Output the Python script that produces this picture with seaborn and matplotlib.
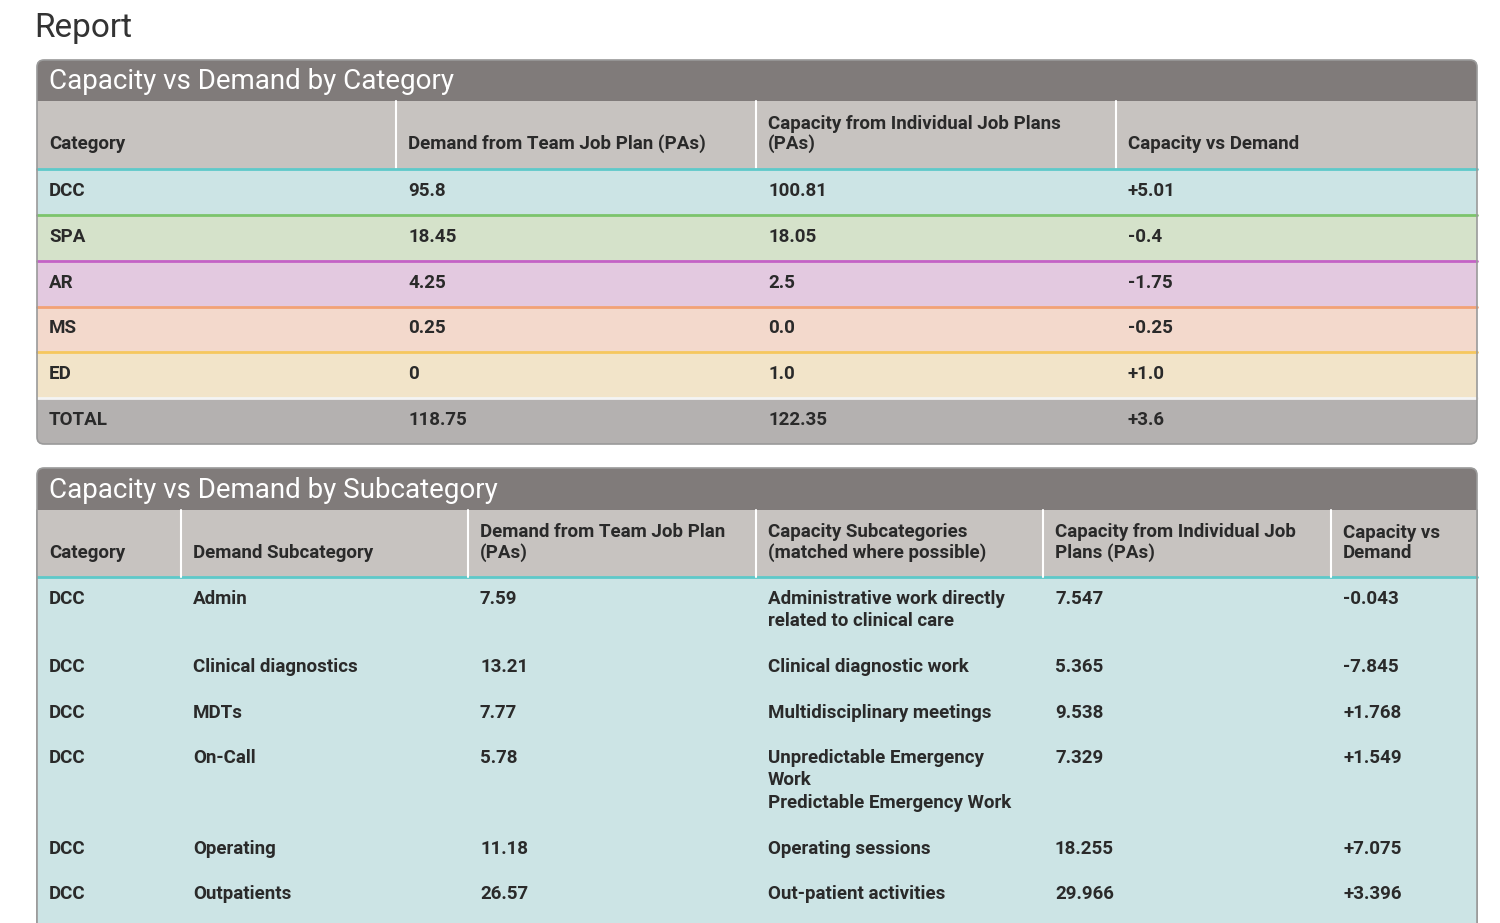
import matplotlib
matplotlib.use('Agg')
import matplotlib.pyplot as plt
from matplotlib.patches import Rectangle, FancyBboxPatch
import seaborn as sns

sns.set_theme(style='white')
plt.rcParams['font.family'] = ['Roboto', 'DejaVu Sans']

# ---- data: table 1 (by category) ----
cat_headers = ['Category', 'Demand from Team Job Plan (PAs)',
               'Capacity from Individual Job Plans\n(PAs)', 'Capacity vs Demand']
categories = ['DCC', 'SPA', 'AR', 'MS', 'ED', 'TOTAL']
demand = ['95.8', '18.45', '4.25', '0.25', '0', '118.75']
capacity = ['100.81', '18.05', '2.5', '0.0', '1.0', '122.35']
diff = ['+5.01', '-0.4', '-1.75', '-0.25', '+1.0', '+3.6']
row_fill = ['#cce4e5', '#d5e2ca', '#e3c9e0', '#f3d9cc', '#f2e4c9', '#b4b1b0']
row_line = ['#5ec9c9', '#7cc46c', '#c462c6', '#f2a276', '#f6c75e', '#f4f4f4']

# ---- data: table 2 (by subcategory) ----
sub_headers = ['Category', 'Demand Subcategory', 'Demand from Team Job Plan\n(PAs)',
               'Capacity Subcategories\n(matched where possible)',
               'Capacity from Individual Job\nPlans (PAs)', 'Capacity vs\nDemand']
sub_cat = ['DCC', 'DCC', 'DCC', 'DCC', 'DCC', 'DCC']
sub_demand_name = ['Admin', 'Clinical diagnostics', 'MDTs', 'On-Call', 'Operating', 'Outpatients']
sub_demand = ['7.59', '13.21', '7.77', '5.78', '11.18', '26.57']
sub_capacity_name = ['Administrative work directly\nrelated to clinical care',
                     'Clinical diagnostic work', 'Multidisciplinary meetings',
                     'Unpredictable Emergency\nWork\nPredictable Emergency Work',
                     'Operating sessions', 'Out-patient activities']
sub_capacity = ['7.547', '5.365', '9.538', '7.329', '18.255', '29.966']
sub_diff = ['-0.043', '-7.845', '+1.768', '+1.549', '+7.075', '+3.396']

TITLE_BG = '#807b7a'
HEAD_BG = '#c7c3c0'
TEXT = '#2a2a2a'
EDGE = '#9a9a9a'

fig = plt.figure(figsize=(15, 9.23), dpi=100)
ax = fig.add_axes([0, 0, 1, 1])
ax.set_xlim(0, 1500)
ax.set_ylim(923, 0)
ax.axis('off')

ax.text(34, 28, 'Report', fontsize=24, color='#333333', va='center', ha='left',
        fontweight='normal')

L, R = 37, 1477

# ================= table 1 =================
t1_top, t1_head, t1_body, t1_bot = 60, 101, 169, 444
row_h = (t1_bot - t1_body) / len(categories)
ax.add_patch(FancyBboxPatch((L, t1_top), R - L, t1_bot - t1_top,
                            boxstyle='round,pad=0,rounding_size=7',
                            fc=TITLE_BG, ec='none', zorder=1))
ax.add_patch(FancyBboxPatch((L, t1_head), R - L, t1_bot - t1_head,
                            boxstyle='round,pad=0,rounding_size=7',
                            fc=row_fill[-1], ec='none', zorder=1))
ax.add_patch(Rectangle((L, t1_head), R - L, t1_body - t1_head, fc=HEAD_BG, ec='none', zorder=2))
ax.text(L + 12, (t1_top + t1_head) / 2 + 1, 'Capacity vs Demand by Category',
        fontsize=20, color='white', va='center', ha='left', zorder=5)

col_x1 = [L, 396, 756, 1116]
for i, h in enumerate(cat_headers):
    ax.text(col_x1[i] + 12, t1_body - 20, h, fontsize=13.5, fontweight='bold',
            color=TEXT, va='baseline', ha='left', linespacing=1.12, zorder=5)
    if i > 0:
        ax.plot([col_x1[i], col_x1[i]], [t1_head, t1_body], color='white', lw=1.5, zorder=3)

for r, name in enumerate(categories):
    y0 = t1_body + r * row_h
    if r < len(categories) - 1:
        ax.add_patch(Rectangle((L, y0), R - L, row_h, fc=row_fill[r], ec='none', zorder=2))
    ax.plot([L, R], [y0, y0], color=row_line[r], lw=2, zorder=3)
    vals = [name, demand[r], capacity[r], diff[r]]
    for i, v in enumerate(vals):
        ax.text(col_x1[i] + 12, y0 + row_h / 2 - 1, v, fontsize=13.5, fontweight='bold',
                color=TEXT, va='center', ha='left', zorder=5)

ax.add_patch(FancyBboxPatch((L, t1_top), R - L, t1_bot - t1_top,
                            boxstyle='round,pad=0,rounding_size=7',
                            fc='none', ec=EDGE, lw=1.2, zorder=6))

# ================= table 2 =================
t2_top, t2_head, t2_body, t2_bot = 468, 510, 577, 960
ax.add_patch(FancyBboxPatch((L, t2_top), R - L, t2_bot - t2_top,
                            boxstyle='round,pad=0,rounding_size=7',
                            fc=TITLE_BG, ec=EDGE, lw=1.2, zorder=1))
ax.add_patch(Rectangle((L, t2_head), R - L, t2_body - t2_head, fc=HEAD_BG, ec='none', zorder=2))
ax.add_patch(Rectangle((L, t2_body), R - L, t2_bot - t2_body, fc=row_fill[0], ec='none', zorder=2))
ax.plot([L, L], [t2_head, 923], color=EDGE, lw=1.2, zorder=6)
ax.plot([R, R], [t2_head, 923], color=EDGE, lw=1.2, zorder=6)
ax.plot([L, R], [t2_body, t2_body], color=row_line[0], lw=2, zorder=3)
ax.text(L + 12, (t2_top + t2_head) / 2 + 1, 'Capacity vs Demand by Subcategory',
        fontsize=20, color='white', va='center', ha='left', zorder=5)

col_x2 = [L, 181, 468, 756, 1043, 1331]
for i, h in enumerate(sub_headers):
    ax.text(col_x2[i] + 12, t2_body - 19, h, fontsize=13.5, fontweight='bold',
            color=TEXT, va='baseline', ha='left', linespacing=1.15, zorder=5)
    if i > 0:
        ax.plot([col_x2[i], col_x2[i]], [t2_head, t2_body], color='white', lw=1.5, zorder=3)

line_h = 22.5
y = t2_body + 13
for r in range(len(sub_cat)):
    vals = [sub_cat[r], sub_demand_name[r], sub_demand[r], sub_capacity_name[r],
            sub_capacity[r], sub_diff[r]]
    n_lines = max(v.count('\n') + 1 for v in vals)
    for i, v in enumerate(vals):
        ax.text(col_x2[i] + 12, y, v, fontsize=13.5, fontweight='bold', color=TEXT,
                va='top', ha='left', linespacing=1.32, zorder=5)
    y += n_lines * line_h + 23

fig.savefig('out.png', dpi=100, facecolor='white')
